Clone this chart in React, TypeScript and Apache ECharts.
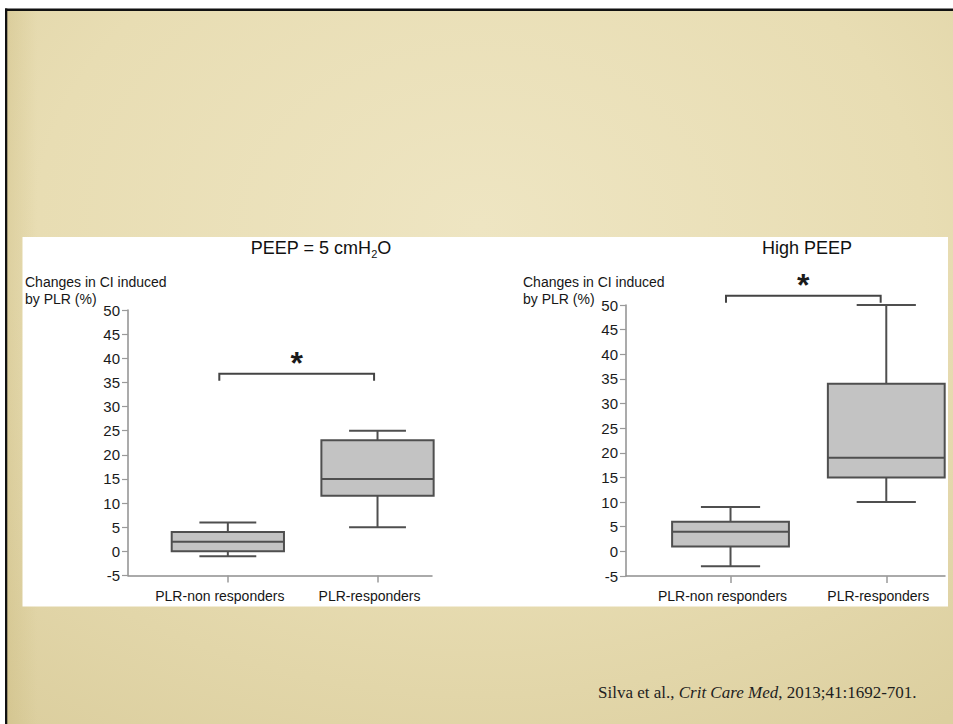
import React, { useEffect, useRef } from "react";
import * as echarts from "echarts";

const FONT = "'Liberation Sans', Arial, Helvetica, sans-serif";
const SERIF = "'Liberation Serif', 'Times New Roman', serif";

const groups = ["PLR-non responders", "PLR-responders"];
const groupPositions = [1, 2];
const yMin = -5;
const yMax = 50;
const yStep = 5;

// Box summaries per group: [min, Q1, median, Q3, max]
const peep5NonResponders = [-1, 0, 2, 4, 6];
const peep5Responders = [5, 11.5, 15, 23, 25];
const highPeepNonResponders = [-3, 1, 4, 6, 9];
const highPeepResponders = [10, 15, 19, 34, 50];

// Significance brackets: [from x, to x, level]
const peep5Bracket = [0.943, 1.977, 36.8];
const highPeepBracket = [0.971, 1.964, 51.9];

const panelTitles = ["PEEP = 5 cmH", "High PEEP"];
const yAxisCaption = "Changes in CI induced\nby PLR (%)";
const significanceMark = "*";

const boxRows = (boxes: number[][]) =>
  boxes.map((b, i) => [groupPositions[i], ...b]);

const boxItem = (params: any, api: any) => {
  const x = api.value(0);
  const band = api.size([1, 0])[0];
  const half = band * 0.375;
  const capHalf = band * 0.19;
  const [cx, pMin] = api.coord([x, api.value(1)]);
  const pQ1 = api.coord([x, api.value(2)])[1];
  const pMed = api.coord([x, api.value(3)])[1];
  const pQ3 = api.coord([x, api.value(4)])[1];
  const pMax = api.coord([x, api.value(5)])[1];
  const stroke = "#4f4f4f";
  const ls = { stroke, lineWidth: 2, fill: null };
  return {
    type: "group",
    children: [
      { type: "line", shape: { x1: cx, y1: pMax, x2: cx, y2: pQ3 }, style: ls },
      { type: "line", shape: { x1: cx, y1: pQ1, x2: cx, y2: pMin }, style: ls },
      { type: "line", shape: { x1: cx - capHalf, y1: pMax, x2: cx + capHalf, y2: pMax }, style: ls },
      { type: "line", shape: { x1: cx - capHalf, y1: pMin, x2: cx + capHalf, y2: pMin }, style: ls },
      {
        type: "rect",
        shape: { x: cx - half, y: pQ3, width: half * 2, height: pQ1 - pQ3 },
        style: { fill: "#c3c3c3", stroke, lineWidth: 2 },
      },
      { type: "line", shape: { x1: cx - half, y1: pMed, x2: cx + half, y2: pMed }, style: ls },
    ],
  };
};

const bracketItem = (params: any, api: any) => {
  const [x1, y] = api.coord([api.value(0), api.value(2)]);
  const x2 = api.coord([api.value(1), api.value(2)])[0];
  const leg = 7;
  return {
    type: "group",
    children: [
      {
        type: "polyline",
        shape: { points: [[x1, y + leg], [x1, y], [x2, y], [x2, y + leg]] },
        style: { stroke: "#444", lineWidth: 2, fill: null },
      },
      {
        type: "text",
        x: (x1 + x2) / 2,
        y: y + 5,
        style: {
          text: significanceMark,
          fontSize: 32,
          fontWeight: "bold",
          fontFamily: FONT,
          fill: "#1a1a1a",
          align: "center",
          verticalAlign: "bottom",
        },
      },
    ],
  };
};

const xAxisFor = (gridIndex: number, min: number, max: number) => ({
  type: "value",
  gridIndex,
  min,
  max,
  splitLine: { show: false },
  axisLine: { show: true, onZero: false, lineStyle: { color: "#8f8f8f", width: 1.5 } },
  axisTick: {
    show: true,
    customValues: groupPositions,
    length: 7,
    lineStyle: { color: "#9a9a9a", width: 1.5 },
  },
  axisLabel: {
    customValues: groupPositions,
    margin: 13,
    formatter: (v: number) => `{c|${groups[Math.round(v) - 1]}}`,
    rich: {
      c: { fontSize: 14, fontFamily: FONT, color: "#161616", padding: [0, 16, 0, 0] },
    },
  },
});

const yAxisFor = (gridIndex: number) => ({
  type: "value",
  gridIndex,
  min: yMin,
  max: yMax,
  interval: yStep,
  splitLine: { show: false },
  axisLine: { show: true, onZero: false, lineStyle: { color: "#8f8f8f", width: 1.5 } },
  axisTick: { show: true, length: 6, lineStyle: { color: "#9a9a9a", width: 1.2 } },
  axisLabel: { fontSize: 15, fontFamily: FONT, color: "#1a1a1a", margin: 8 },
});

export default function App() {
  const ref = useRef<HTMLDivElement>(null);

  useEffect(() => {
    if (!ref.current) return;
    const chart = echarts.init(ref.current, null, { renderer: "svg" });

    const caption = (x: number) => ({
      type: "text",
      x,
      y: 273,
      z: 50,
      style: {
        text: yAxisCaption,
        fontSize: 14,
        lineHeight: 17,
        fontFamily: FONT,
        fill: "#161616",
        align: "left",
        verticalAlign: "top",
      },
    });

    chart.setOption({
      animation: false,
      backgroundColor: "#ffffff",
      grid: [
        { left: 128, top: 310, width: 304, height: 265.5 },
        { left: 626, top: 305, width: 319, height: 271 },
      ],
      xAxis: [xAxisFor(0, 0.333, 2.364), xAxisFor(1, 0.329, 2.377)],
      yAxis: [yAxisFor(0), yAxisFor(1)],
      graphic: [
        // slide background
        {
          type: "rect",
          z: -30,
          silent: true,
          shape: { x: 7, y: 11, width: 946, height: 713 },
          style: {
            fill: new echarts.graphic.RadialGradient(0.5, 0.3, 0.85, [
              { offset: 0, color: "#eee5c2" },
              { offset: 0.55, color: "#e8ddb3" },
              { offset: 1, color: "#dccf9f" },
            ]),
          },
        },
        {
          type: "rect",
          z: -29,
          silent: true,
          shape: { x: 7, y: 11, width: 30, height: 713 },
          style: {
            fill: new echarts.graphic.LinearGradient(0, 0, 1, 0, [
              { offset: 0, color: "rgba(185,165,95,0.22)" },
              { offset: 1, color: "rgba(185,165,95,0)" },
            ]),
          },
        },
        { type: "rect", z: -28, silent: true, shape: { x: 5, y: 8.5, width: 948, height: 2.5 }, style: { fill: "#111" } },
        { type: "rect", z: -28, silent: true, shape: { x: 5, y: 8.5, width: 2.3, height: 716 }, style: { fill: "#111" } },
        // white figure panel
        {
          type: "rect",
          z: -20,
          silent: true,
          shape: { x: 22.5, y: 237, width: 925.5, height: 369.5 },
          style: { fill: "#ffffff" },
        },
        {
          type: "text",
          x: 321,
          y: 248,
          z: 50,
          style: {
            text: `{t|${panelTitles[0]}}{s|2}{t|O}`,
            align: "center",
            verticalAlign: "middle",
            rich: {
              t: { fontSize: 18, fontFamily: FONT, fill: "#111", lineHeight: 23 },
              s: { fontSize: 11, fontFamily: FONT, fill: "#111", lineHeight: 23, verticalAlign: "bottom" },
            },
          },
        },
        {
          type: "text",
          x: 807,
          y: 248,
          z: 50,
          style: {
            text: panelTitles[1],
            fontSize: 18,
            fontFamily: FONT,
            fill: "#111",
            align: "center",
            verticalAlign: "middle",
          },
        },
        caption(25),
        caption(523),
        {
          type: "text",
          x: 598,
          y: 692,
          z: 50,
          style: {
            text: "{r|Silva et al., }{i|Crit Care Med}{r|, 2013;41:1692-701.}",
            align: "left",
            verticalAlign: "middle",
            rich: {
              r: { fontSize: 17, fontFamily: SERIF, fill: "#1e1e1e" },
              i: { fontSize: 17, fontStyle: "italic", fontFamily: SERIF, fill: "#1e1e1e" },
            },
          },
        },
      ],
      series: [
        {
          type: "custom",
          xAxisIndex: 0,
          yAxisIndex: 0,
          renderItem: boxItem,
          encode: { x: 0, y: [1, 2, 3, 4, 5] },
          data: boxRows([peep5NonResponders, peep5Responders]),
          clip: false,
        },
        {
          type: "custom",
          xAxisIndex: 1,
          yAxisIndex: 1,
          renderItem: boxItem,
          encode: { x: 0, y: [1, 2, 3, 4, 5] },
          data: boxRows([highPeepNonResponders, highPeepResponders]),
          clip: false,
        },
        {
          type: "custom",
          xAxisIndex: 0,
          yAxisIndex: 0,
          renderItem: bracketItem,
          encode: { x: [0, 1], y: 2 },
          data: [peep5Bracket],
          clip: false,
        },
        {
          type: "custom",
          xAxisIndex: 1,
          yAxisIndex: 1,
          renderItem: bracketItem,
          encode: { x: [0, 1], y: 2 },
          data: [highPeepBracket],
          clip: false,
        },
      ],
    });

    return () => chart.dispose();
  }, []);

  return (
    <div
      ref={ref}
      style={{ position: "fixed", left: 0, top: 0, width: 953, height: 724 }}
    />
  );
}
